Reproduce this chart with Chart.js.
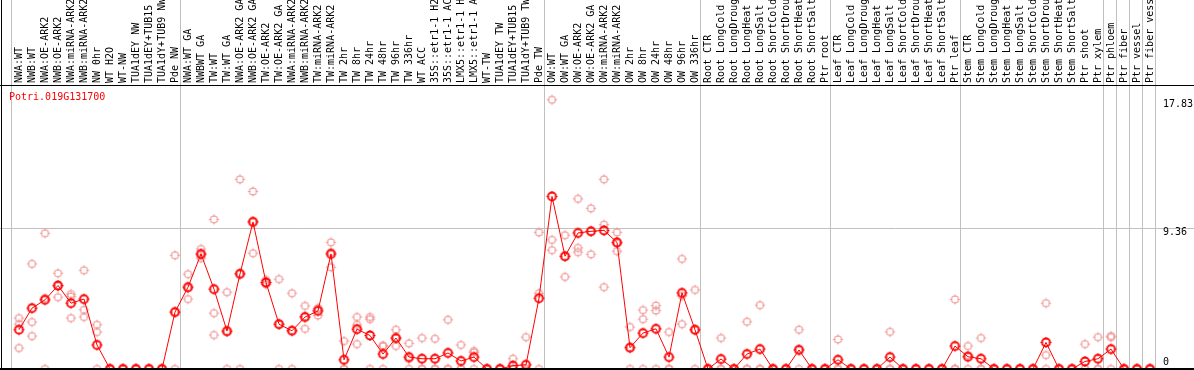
<!DOCTYPE html>
<html>
<head>
<meta charset="utf-8">
<script src="https://cdn.jsdelivr.net/npm/chart.js@4.4.0/dist/chart.umd.min.js"></script>
<style>
  html, body { margin: 0; padding: 0; background: #fff; }
  canvas { display: block; }
</style>
</head>
<body>
<canvas id="Chart" width="1194" height="370"></canvas>
<script>
const geneName = 'Potri.019G131700';

const categories = [
    'NWA:WT', 'NWB:WT', 'NWA:OE-ARK2', 'NWB:OE-ARK2', 'NWA:miRNA-ARK2', 'NWB:miRNA-ARK2',
    'NW 0hr', 'WT H2O', 'WT-NW', 'TUA1dEY NW', 'TUA1dEY+TUB15', 'TUA1dY+TUB9 NW', 'Pde NW',
    'NWA:WT GA', 'NWBWT GA', 'TW:WT', 'TW:WT GA', 'NWA:OE-ARK2 GA', 'NWB:OE-ARK2 GA',
    'TW:OE-ARK2', 'TW:OE-ARK2 GA', 'NWA:miRNA-ARK2', 'NWB:miRNA-ARK2', 'TW:miRNA-ARK2', 'TW:miRNA-ARK2',
    'TW 2hr', 'TW 8hr', 'TW 24hr', 'TW 48hr', 'TW 96hr', 'TW 336hr', 'WT ACC',
    '35S::etr1-1 H2', '35S::etr1-1 AC', 'LMX5::etr1-1 H', 'LMX5::etr1-1 A', 'WT-TW',
    'TUA1dEY TW', 'TUA1dEY+TUB15', 'TUA1dY+TUB9 TW', 'Pde TW',
    'OW:WT', 'OW:WT GA', 'OW:OE-ARK2', 'OW:OE-ARK2 GA', 'OW:miRNA-ARK2', 'OW:miRNA-ARK2',
    'OW 2hr', 'OW 8hr', 'OW 24hr', 'OW 48hr', 'OW 96hr', 'OW 336hr',
    'Root CTR', 'Root LongCold', 'Root LongDroug', 'Root LongHeat', 'Root LongSalt',
    'Root ShortCold', 'Root ShortDrou', 'Root ShortHeat', 'Root ShortSalt', 'Ptr root',
    'Leaf CTR', 'Leaf LongCold', 'Leaf LongDroug', 'Leaf LongHeat', 'Leaf LongSalt',
    'Leaf ShortCold', 'Leaf ShortDrou', 'Leaf ShortHeat', 'Leaf ShortSalt', 'Ptr leaf',
    'Stem CTR', 'Stem LongCold', 'Stem LongDroug', 'Stem LongHeat', 'Stem LongSalt',
    'Stem ShortCold', 'Stem ShortDrou', 'Stem ShortHeat', 'Stem ShortSalt', 'Ptr shoot',
    'Ptr xylem', 'Ptr phloem', 'Ptr fiber', 'Ptr vessel', 'Ptr fiber vess'
];

// mean expression per sample (red line)
const meanValues = [
    2.60, 4.03, 4.58, 5.53, 4.36, 4.63, 1.59, 0, 0, 0, 0, 0, 3.77,
    5.42, 7.62, 5.29, 2.51, 6.30, 9.74, 5.73, 2.97, 2.53, 3.44, 3.85, 7.62,
    0.61, 2.64, 2.22, 0.99, 2.05, 0.79, 0.68, 0.68, 1.06, 0.53, 0.79, 0, 0, 0.22, 0.28, 4.69,
    11.43, 7.47, 9.01, 9.12, 9.18, 8.39, 1.41, 2.38, 2.66, 0.79, 5.04, 2.60,
    0, 0.66, 0, 0.99, 1.32, 0, 0, 1.26, 0, 0,
    0.61, 0, 0, 0, 0.79, 0, 0, 0, 0, 1.52,
    0.81, 0.68, 0, 0, 0, 0, 1.76, 0, 0, 0.50,
    0.68, 1.32, 0, 0, 0
];

// replicates (pink circles)
const rep1 = [
    3.37, 6.96, 8.99, 6.34, 4.96, 6.54, 2.93, 0, 0, 0, 0, 0, 7.53,
    6.28, 7.95, 9.91, 5.09, 12.56, 11.76, 5.90, 5.95, 5.02, 4.18, 4.03, 8.39,
    1.85, 3.44, 3.44, 1.56, 2.60, 1.70, 2.05, 2.00, 3.26, 1.59, 1.19, 0, 0, 0.68, 2.11, 9.05,
    17.83, 8.86, 11.27, 10.64, 12.56, 9.05, 2.78, 3.90, 4.20, 2.45, 7.29, 5.24,
    0, 2.05, 0, 3.13, 4.23, 0, 0, 2.60, 0, 0,
    1.96, 0, 0, 0, 2.46, 0, 0, 0, 0, 4.61,
    1.52, 2.05, 0, 0, 0, 0, 4.36, 0, 0, 1.65,
    2.11, 2.18, 0, 0, 0
];
const rep2 = [
    2.97, 3.11, 4.69, 4.76, 4.80, 3.92, 2.45, 0, 0, 0, 0, 0, 3.78,
    5.35, 7.57, 3.70, 2.44, 6.34, 9.79, 5.70, 2.96, 2.57, 3.48, 3.98, 7.73,
    0, 2.93, 3.30, 1.50, 2.03, 0.67, 0, 0, 0, 0, 1.10, 0, 0, 0, 0, 5.02,
    8.55, 7.45, 8.02, 9.12, 9.56, 8.32, 1.45, 3.30, 3.87, 0, 4.84, 2.56,
    0, 0, 0, 0, 0, 0, 0, 1.32, 0, 0,
    0, 0, 0, 0, 0, 0, 0, 0, 0, 0,
    0.91, 0, 0, 0, 0, 0, 0.92, 0, 0, 0,
    0, 2.11, 0, 0, 0
];
const rep3 = [
    1.39, 2.18, 0, 5.49, 3.37, 3.44, 0, 0, 0, 0, 0, 0, 0,
    4.63, 7.34, 2.25, 0, 0, 7.67, 5.60, 0, 0, 2.66, 3.54, 6.74,
    0, 1.65, 0, 0, 1.52, 0, 0, 0, 0, 0, 0, 0, 0, 0, 0, 0,
    7.87, 6.10, 7.74, 7.60, 5.42, 7.80, 0, 0, 0, 0, 2.97, 0,
    0, 0, 0, 0, 0, 0, 0, 0, 0, 0,
    0, 0, 0, 0, 0, 0, 0, 0, 0, 0,
    0, 0, 0, 0, 0, 0, 0, 0, 0, 0,
    0, 0, 0, 0, 0
];

const yTickValues = [0, 9.36, 17.83];
const yTickLabels = ['0', '9.36', '17.83'];
const yGridValues = [9.36];
// last sample index of each tissue group (separator drawn after it)
const groupEnds = [-1, 12, 40, 52, 62, 72, 83, 84, 85, 86, 87];

function toPoints(values) {
    return values.map((v, i) => ({ x: i, y: v }));
}

// circle marker with four little ticks, drawn into an offscreen canvas
function makeMarker(color, lineWidth, r) {
    const c = document.createElement('canvas');
    c.width = 15;
    c.height = 15;
    const g = c.getContext('2d');
    const m = 7.5;
    g.strokeStyle = color;
    g.lineWidth = lineWidth;
    g.beginPath();
    g.arc(m, m, r, 0, Math.PI * 2);
    g.stroke();
    g.lineWidth = 1;
    g.beginPath();
    g.moveTo(m, m - r - 1.5); g.lineTo(m, m - r + 1);
    g.moveTo(m, m + r - 1); g.lineTo(m, m + r + 1.5);
    g.moveTo(m - r - 1.5, m); g.lineTo(m - r + 1, m);
    g.moveTo(m + r - 1, m); g.lineTo(m + r + 1.5, m);
    g.stroke();
    return c;
}

const meanMarker = makeMarker('#ff0000', 1.8, 4);
const repMarker = makeMarker('rgb(240,150,150)', 1.1, 3.5);

const frame = {
    id: 'frame',
    beforeDatasetsDraw(chart) {
        const ctx = chart.ctx;
        const xs = chart.scales.x;
        const ys = chart.scales.y;
        const W = chart.width;
        const area = chart.chartArea;
        ctx.save();
        ctx.strokeStyle = '#c0c0c0';
        ctx.lineWidth = 1;
        groupEnds.forEach(k => {
            const px = Math.round(xs.getPixelForValue(k + 0.4)) + 0.5;
            ctx.beginPath();
            ctx.moveTo(px, 0);
            ctx.lineTo(px, area.bottom);
            ctx.stroke();
        });
        yGridValues.forEach(v => {
            const py = Math.round(ys.getPixelForValue(v)) + 0.5;
            ctx.beginPath();
            ctx.moveTo(0, py);
            ctx.lineTo(W, py);
            ctx.stroke();
        });
        ctx.restore();
    },
    afterDatasetsDraw(chart) {
        const ctx = chart.ctx;
        const xs = chart.scales.x;
        const ys = chart.scales.y;
        const W = chart.width;
        const H = chart.height;
        const area = chart.chartArea;
        ctx.save();
        ctx.fillStyle = '#000';
        ctx.fillRect(0, area.top, W, 1);
        ctx.fillRect(1, 0, 1, H);
        ctx.fillRect(0, area.bottom - 1, W, 2);

        ctx.font = '10px "DejaVu Sans Mono"';
        // sample names, rotated
        ctx.textAlign = 'left';
        ctx.textBaseline = 'middle';
        categories.forEach((name, i) => {
            const px = xs.getPixelForValue(i);
            ctx.save();
            ctx.translate(px, area.top - 2);
            ctx.rotate(-Math.PI / 2);
            ctx.fillText(name, 0, 0);
            ctx.restore();
        });

        // value labels on the right
        const lx = area.right + 5;
        yTickValues.forEach((v, i) => {
            const py = ys.getPixelForValue(v);
            if (v === 0) {
                ctx.textBaseline = 'bottom';
                ctx.fillText(yTickLabels[i], lx, py - 2);
            } else {
                ctx.textBaseline = 'top';
                ctx.fillText(yTickLabels[i], lx, py);
            }
        });

        ctx.fillStyle = '#ff0000';
        ctx.textBaseline = 'top';
        ctx.fillText(geneName, area.left + 8, area.top + 7);
        ctx.restore();
    }
};

const ctx = document.getElementById('Chart').getContext('2d');

const repStyle = {
    showLine: false,
    pointStyle: repMarker,
    pointRadius: 4,
    order: 2
};

const myChart = new Chart(ctx, {
    type: 'scatter',
    data: {
        datasets: [
            {
                label: geneName,
                data: toPoints(meanValues),
                showLine: true,
                borderColor: '#ff0000',
                borderWidth: 1,
                pointStyle: meanMarker,
                pointRadius: 4,
                order: 1
            },
            Object.assign({ label: 'rep1', data: toPoints(rep1) }, repStyle),
            Object.assign({ label: 'rep2', data: toPoints(rep2) }, repStyle),
            Object.assign({ label: 'rep3', data: toPoints(rep3) }, repStyle)
        ]
    },
    options: {
        responsive: false,
        animation: false,
        devicePixelRatio: 1,
        layout: { autoPadding: false, padding: { left: 1, right: 36, top: 85, bottom: 1 } },
        plugins: {
            legend: { display: false },
            tooltip: { enabled: false }
        },
        scales: {
            x: { type: 'linear', min: -18 / 13, max: 1139 / 13, display: false },
            y: { type: 'linear', min: 0, max: 18.81, display: false }
        }
    },
    plugins: [frame]
});
</script>
</body>
</html>
